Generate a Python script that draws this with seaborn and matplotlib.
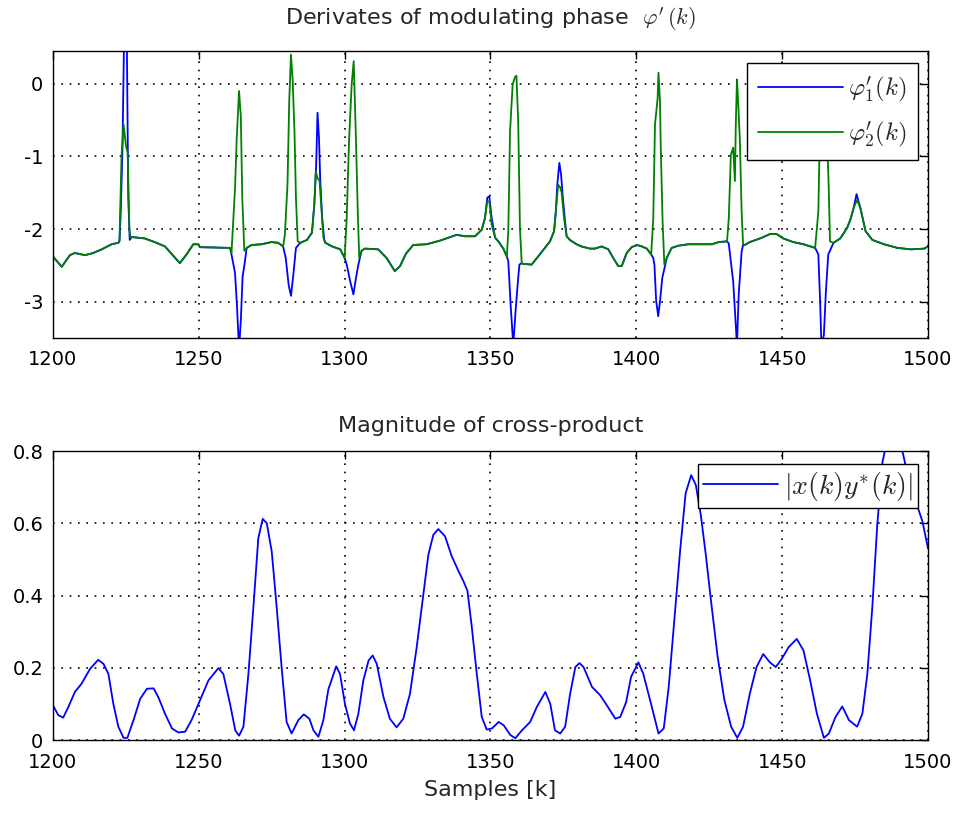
import matplotlib
matplotlib.use("Agg")
import matplotlib.pyplot as plt
import seaborn as sns

# ── Data (sample index k, value) ────────────────────────────────────
# shared smooth part of both phase derivatives
base_k = [1200, 1201.5, 1203, 1205.8, 1207.5, 1211, 1213.8, 1216.7, 1220.1, 1222.4,
          1227, 1231.5, 1235.5, 1238.4, 1241.3, 1243.5, 1245.8, 1248.1, 1249.8, 1250.4, 1260.7,
          1266.4, 1268.1, 1271.5, 1274.9, 1277.2, 1278.9,
          1284.8, 1287.1, 1288.8,
          1293.4, 1295.7, 1298.5, 1300,
          1305.8, 1306.9, 1311.5, 1314.4, 1317.2, 1319, 1321, 1323.5, 1328.1, 1332.7,
          1338.4, 1341.3, 1344.7, 1347,
          1352.7, 1354.4, 1355.6,
          1361.2, 1364.1, 1366.9, 1370.4, 1371.8,
          1377.2, 1379.5, 1381.2, 1384.1, 1385.8, 1388.1, 1390.4, 1392.1, 1393.8, 1395,
          1396.7, 1398.4, 1400.2, 1401.9, 1403.6, 1405.1,
          1410.4, 1412.1, 1414.4, 1417.8, 1422.4, 1425.9, 1428.2, 1431.1,
          1437.2, 1438.9, 1442.4, 1445.8, 1448.1, 1450.4, 1453.8, 1457.3, 1461.3,
          1467.6, 1469.9, 1472.2, 1473.4, 1474.5,
          1476.8, 1478.6, 1480.9, 1484.9, 1489.5, 1494.1, 1498.7, 1500]
base_v = [-2.38, -2.45, -2.52, -2.36, -2.33, -2.36, -2.33, -2.28, -2.21, -2.19,
          -2.11, -2.13, -2.19, -2.24, -2.37, -2.47, -2.35, -2.21, -2.21, -2.25, -2.26,
          -2.26, -2.22, -2.21, -2.18, -2.19, -2.24,
          -2.19, -2.15, -2.05,
          -2.19, -2.24, -2.28, -2.40,
          -2.30, -2.27, -2.28, -2.40, -2.58, -2.51, -2.34, -2.22, -2.21, -2.16,
          -2.08, -2.10, -2.10, -2.01,
          -2.17, -2.27, -2.38,
          -2.48, -2.49, -2.35, -2.17, -2.03,
          -2.15, -2.21, -2.24, -2.27, -2.27, -2.24, -2.28, -2.40, -2.51, -2.51,
          -2.33, -2.25, -2.22, -2.24, -2.27, -2.35,
          -2.40, -2.26, -2.23, -2.21, -2.21, -2.21, -2.18, -2.17,
          -2.22, -2.18, -2.13, -2.07, -2.07, -2.13, -2.18, -2.21, -2.26,
          -2.19, -2.13, -1.99, -1.87, -1.71,
          -1.71, -2.03, -2.15, -2.21, -2.26, -2.28, -2.27, -2.24]

# spikes of phi'_1 (blue)
blue_k = [1222.8, 1223.2, 1223.8, 1224.4, 1225.3, 1225.8, 1226.3,
          1261.2, 1262.4, 1263.0, 1263.8, 1264.4, 1265.0, 1265.8,
          1279.8, 1280.8, 1281.6, 1282.4, 1283.3,
          1289.6, 1290.2, 1290.7, 1291.2, 1291.6, 1292.3, 1293.0,
          1300.7, 1301.9, 1303.0, 1303.9, 1304.7,
          1348.1, 1348.9, 1349.6, 1350.4, 1351.6,
          1356.1, 1356.9, 1357.8, 1358.6, 1359.3, 1359.9, 1360.7,
          1372.4, 1372.9, 1373.6, 1374.2, 1374.7, 1375.5, 1376.1,
          1405.8, 1406.2, 1406.8, 1407.5, 1408.1, 1408.9, 1409.6,
          1431.7, 1432.0, 1433.2, 1433.8, 1434.5, 1435.1, 1436.1, 1436.6,
          1462.4, 1463.0, 1463.5, 1464.3, 1465.0, 1465.8,
          1475.5]
blue_v = [-2.17, -1.80, -0.95, 0.70, 0.70, -1.55, -2.15,
          -2.35, -2.60, -3.00, -3.65, -3.26, -2.66, -2.45,
          -2.40, -2.77, -2.92, -2.63, -2.26,
          -1.66, -1.16, -0.40, -0.75, -1.30, -1.85, -2.15,
          -2.49, -2.72, -2.90, -2.67, -2.49,
          -1.85, -1.57, -1.55, -1.85, -2.12,
          -2.44, -3.04, -3.60, -3.13, -2.77, -2.49, -2.47,
          -1.76, -1.39, -1.09, -1.25, -1.52, -1.87, -2.10,
          -2.40, -2.49, -2.99, -3.20, -3.00, -2.67, -2.55,
          -2.20, -2.31, -2.72, -3.13, -3.60, -2.90, -2.31, -2.22,
          -2.35, -2.99, -3.65, -3.45, -2.85, -2.35,
          -1.52]

# spikes of phi'_2 (green)
green_k = [1222.8, 1223.5, 1224.2, 1225.0, 1225.6, 1226.2, 1226.6,
           1261.2, 1262.4, 1263.0, 1263.8, 1264.4, 1264.9, 1265.6,
           1279.5, 1280.4, 1281.0, 1281.6, 1282.2, 1282.8, 1283.3, 1283.9,
           1289.6, 1290.1, 1290.7, 1291.4, 1292.1, 1292.7,
           1300.7, 1301.5, 1302.4, 1303.1, 1303.8, 1304.5, 1305.0,
           1348.1, 1348.9, 1349.6, 1350.4, 1351.6,
           1356.1, 1356.7, 1357.6, 1358.4, 1358.9, 1359.5, 1360.1, 1360.7,
           1372.4, 1373.2, 1373.9, 1374.4, 1375.2, 1376.1,
           1405.8, 1406.4, 1407.3, 1407.6, 1408.1, 1408.4, 1409.0, 1409.6,
           1431.7, 1432.4, 1433.2, 1433.8, 1434.1, 1434.5, 1434.9, 1435.5, 1436.1, 1436.6,
           1462.4, 1463.0, 1463.6, 1464.4, 1465.0, 1465.5, 1465.9, 1466.4,
           1475.7]
green_v = [-2.15, -1.00, -0.56, -0.85, -0.95, -2.00, -2.12,
           -2.33, -1.45, -0.75, -0.10, -0.45, -1.57, -2.30,
           -2.08, -1.39, -0.24, 0.40, 0.03, -0.66, -1.57, -2.17,
           -1.66, -1.21, -1.30, -1.34, -1.76, -2.12,
           -1.85, -0.79, -0.01, 0.31, -0.66, -1.76, -2.40,
           -1.85, -1.62, -1.62, -1.94, -2.12,
           -2.03, -0.66, -0.01, 0.09, 0.11, -0.52, -1.99, -2.47,
           -1.76, -1.39, -1.43, -1.50, -1.85, -2.10,
           -1.85, -0.56, -0.20, 0.15, -0.24, -0.93, -1.89, -2.49,
           -1.85, -0.98, -0.88, -1.34, -0.56, 0.06, -0.24, -0.79, -1.76, -2.21,
           -1.76, -0.50, 0.10, 0.15, 0.00, -0.90, -1.34, -2.17,
           -1.60]

# magnitude of cross-product
mag_k = [1200, 1201.8, 1203.5, 1205.3, 1207.5, 1209.8, 1212.7, 1215.5, 1217.3, 1219,
         1220.7, 1222.4, 1224.2, 1225.5, 1227.6, 1229.9, 1232.2, 1234.5, 1236.1, 1238.4,
         1240.8, 1243, 1245.3, 1247.5, 1250.4, 1253.3, 1256.7, 1258.4, 1260.7, 1262.5,
         1263.8, 1265.3, 1267, 1268.7, 1270.4, 1271.9, 1273.3, 1275, 1276.7, 1278.4,
         1280.1, 1281.8, 1284.1, 1286, 1287.9, 1289.3, 1291, 1292.7, 1294.4, 1297.1,
         1298.4, 1300.1, 1301.8, 1303.2, 1304.7, 1306.4, 1308.2, 1309.6, 1311, 1313.3,
         1315.5, 1317.8, 1320.1, 1322.4, 1324.7, 1326.7, 1328.7, 1330.4, 1332.1, 1334.4,
         1336.7, 1339, 1340.7, 1342.1, 1343.6, 1345.3, 1347, 1348.7, 1350.5, 1352.8,
         1354.5, 1356.8, 1358.5, 1360.8, 1363.6, 1365.9, 1368.8, 1370.5, 1372.1, 1373.9,
         1375.6, 1377.3, 1379.1, 1380.5, 1381.9, 1384.8, 1387.6, 1389.9, 1392.8, 1394.5,
         1396.5, 1398.2, 1400.7, 1402.4, 1405.3, 1407.6, 1409.4, 1411.1, 1412.8, 1415.1,
         1416.9, 1418.8, 1420.4, 1422.1, 1423.8, 1425.6, 1427.9, 1430.2, 1432.5, 1434.6,
         1436.6, 1438.9, 1441.2, 1443.5, 1445.8, 1447.8, 1449.8, 1452.2, 1455, 1457.3,
         1459.6, 1461.9, 1464.3, 1466, 1468.3, 1470.6, 1472.9, 1475.7, 1477.5, 1479.2,
         1480.9, 1482.6, 1484.4, 1486, 1488.5, 1490.5, 1491.5, 1493.5, 1495.8, 1498.1,
         1500]
mag_v = [0.096, 0.069, 0.062, 0.092, 0.133, 0.156, 0.197, 0.222, 0.211, 0.183,
         0.100, 0.037, 0.006, 0.006, 0.055, 0.114, 0.142, 0.143, 0.119, 0.073,
         0.032, 0.021, 0.023, 0.055, 0.110, 0.165, 0.199, 0.183, 0.100, 0.027,
         0.012, 0.037, 0.183, 0.367, 0.559, 0.612, 0.600, 0.522, 0.367, 0.200,
         0.050, 0.018, 0.055, 0.071, 0.059, 0.027, 0.009, 0.055, 0.140, 0.204,
         0.183, 0.100, 0.046, 0.027, 0.073, 0.165, 0.220, 0.234, 0.211, 0.119,
         0.059, 0.035, 0.059, 0.128, 0.257, 0.385, 0.513, 0.568, 0.584, 0.564,
         0.509, 0.468, 0.440, 0.413, 0.312, 0.183, 0.064, 0.029, 0.032, 0.050,
         0.041, 0.014, 0.005, 0.027, 0.050, 0.092, 0.133, 0.100, 0.027, 0.018,
         0.037, 0.128, 0.202, 0.213, 0.202, 0.147, 0.124, 0.096, 0.059, 0.064,
         0.105, 0.175, 0.215, 0.183, 0.092, 0.018, 0.032, 0.147, 0.312, 0.532,
         0.683, 0.733, 0.706, 0.623, 0.514, 0.385, 0.229, 0.110, 0.037, 0.006,
         0.037, 0.128, 0.202, 0.238, 0.215, 0.202, 0.224, 0.257, 0.280, 0.248,
         0.165, 0.073, 0.006, 0.018, 0.064, 0.093, 0.055, 0.037, 0.073, 0.183,
         0.367, 0.596, 0.770, 0.830, 0.850, 0.820, 0.790, 0.715, 0.660, 0.605,
         0.530]

x_ticks = [1200, 1250, 1300, 1350, 1400, 1450, 1500]
top_yticks = [-3, -2, -1, 0]
bot_yticks = [0, 0.2, 0.4, 0.6, 0.8]
bot_ylabels = ["0", "0.2", "0.4", "0.6", "0.8"]

# merge the shared part with each line's spikes
phi1 = sorted(zip(base_k + blue_k, base_v + blue_v))
phi2 = sorted(zip(base_k + green_k, base_v + green_v))

# ── Style ───────────────────────────────────────────────────────────
sns.set_style("white")
plt.rcParams["font.family"] = ["DejaVu Sans"]
plt.rcParams["mathtext.fontset"] = "cm"
plt.rcParams["axes.unicode_minus"] = False

BLUE = "#0000FF"
GREEN = "#008000"

fig = plt.figure(figsize=(9.58, 8.16), dpi=100)
ax1 = fig.add_axes([0.0553, 0.5858, 0.9134, 0.3517])
ax2 = fig.add_axes([0.0553, 0.0931, 0.9134, 0.3542])


def matlab_axes(ax):
    ax.grid(True, color="black", linestyle=(0, (1, 4)), linewidth=1.2)
    ax.set_axisbelow(True)
    for s in ax.spines.values():
        s.set_visible(True)
        s.set_color("black")
        s.set_linewidth(1.0)
    ax.tick_params(direction="in", length=6, width=1.0, top=True, right=True,
                   labelsize=14, colors="black")
    ax.tick_params(axis="x", pad=9)
    ax.tick_params(axis="y", pad=7)
    ax.set_xlim(1200, 1500)
    ax.set_xticks(x_ticks)
    ax.set_xlabel("")
    ax.set_ylabel("")


# top panel
sns.lineplot(x=[p[0] for p in phi1], y=[p[1] for p in phi1], ax=ax1, color=BLUE,
             linewidth=1.3, sort=False, estimator=None, label=r"$\varphi^{\prime}_{1}(k)$")
sns.lineplot(x=[p[0] for p in phi2], y=[p[1] for p in phi2], ax=ax1, color=GREEN,
             linewidth=1.3, sort=False, estimator=None, label=r"$\varphi^{\prime}_{2}(k)$")
matlab_axes(ax1)
ax1.set_ylim(-3.5, 0.45)
ax1.set_yticks(top_yticks)
ax1.set_title(r"Derivates of modulating phase  $\varphi^{\prime}\,(k)$", fontsize=16, pad=19)
leg1 = ax1.legend(loc="upper right", bbox_to_anchor=(0.9886, 0.958), borderaxespad=0,
                  fontsize=18, handlelength=3.4, labelspacing=0.6, fancybox=False,
                  framealpha=1, edgecolor="black", borderpad=0.45, handletextpad=0.2)
leg1.get_frame().set_linewidth(1.0)

# bottom panel
sns.lineplot(x=mag_k, y=mag_v, ax=ax2, color=BLUE, linewidth=1.3, sort=False,
             estimator=None, label=r"$|x(k)y^{*}(k)|$")
matlab_axes(ax2)
ax2.set_ylim(0, 0.8)
ax2.set_yticks(bot_yticks)
ax2.set_yticklabels(bot_ylabels)
ax2.set_title("Magnitude of cross-product", fontsize=16, pad=14)
ax2.set_xlabel("Samples [k]", fontsize=16, labelpad=6)
leg2 = ax2.legend(loc="upper right", bbox_to_anchor=(0.9886, 0.955), borderaxespad=0,
                  fontsize=20, handlelength=2.7, fancybox=False, framealpha=1,
                  edgecolor="black", borderpad=0.2, handletextpad=0.2)
leg2.get_frame().set_linewidth(1.0)

plt.savefig("out.png", dpi=100)
plt.close()
